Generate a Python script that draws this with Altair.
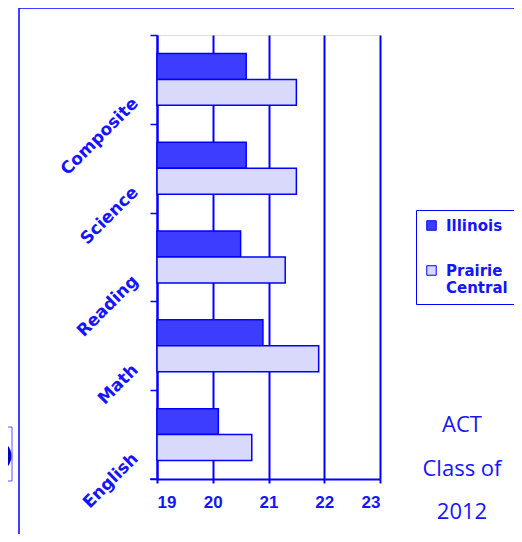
import altair as alt
import pandas as pd

categories = ["Composite", "Science", "Reading", "Math", "English"]
series = ["Illinois", "Prairie Central"]
illinois = [20.6, 20.6, 20.5, 20.9, 20.1]
prairie_central = [21.5, 21.5, 21.3, 21.9, 20.7]
x_ticks = [19, 20, 21, 22, 23]
note_lines = ["ACT", "Class of", "2012"]

BLUE = "#0000ff"
TEXT_BLUE = "#1414ff"
colors = ["#3d3dff", "#d9d9fb"]

rows = []
for c, a, b in zip(categories, illinois, prairie_central):
    rows.append({"category": c, "series": series[0], "value": a})
    rows.append({"category": c, "series": series[1], "value": b})
df = pd.DataFrame(rows)

W, H = 223, 444

bars = alt.Chart(df).mark_bar(stroke=BLUE, strokeWidth=1.5).encode(
    y=alt.Y("category:N", sort=categories, title=None,
            scale=alt.Scale(paddingInner=0, paddingOuter=0),
            axis=alt.Axis(labelAngle=-45, labelAlign="right", labelBaseline="middle",
                          labelFont="DejaVu Sans", labelFontWeight="bold", labelFontSize=17,
                          labelColor=TEXT_BLUE, labelOffset=21, labelPadding=15,
                          tickColor=BLUE, tickWidth=1.5, tickSize=7, tickBand="extent",
                          domainColor=BLUE, domainWidth=2)),
    yOffset=alt.YOffset("series:N", sort=series,
                        scale=alt.Scale(paddingInner=0, paddingOuter=0.71)),
    x=alt.X("value:Q", title=None,
            scale=alt.Scale(domain=[19, 23], nice=False, zero=False),
            axis=alt.Axis(values=x_ticks, grid=True, gridColor=BLUE, gridWidth=2,
                          domainColor=BLUE, domainWidth=2, tickColor=BLUE, tickWidth=2,
                          tickSize=4, labelFont="Liberation Sans", labelFontWeight="bold",
                          labelFontSize=17, labelColor=TEXT_BLUE, labelPadding=11)),
    x2=alt.datum(19),
    color=alt.Color("series:N", sort=series, title=None,
                    scale=alt.Scale(domain=series, range=colors),
                    legend=alt.Legend(orient="none", legendX=259, legendY=175,
                                      strokeColor=BLUE, padding=8, rowPadding=29,
                                      symbolType="square", symbolSize=90,
                                      symbolStrokeColor=BLUE, symbolStrokeWidth=1,
                                      symbolOpacity=1,
                                      labelFont="DejaVu Sans", labelFontWeight="bold",
                                      labelFontSize=15, labelColor=TEXT_BLUE,
                                      labelLimit=200, labelBaseline="middle", labelOffset=7,
                                      labelExpr="datum.label == 'Prairie Central' ? ['Prairie', 'Central'] : datum.label")),
)

one = pd.DataFrame({"k": [0]})
frame_left = alt.Chart(one).mark_rule(color=BLUE, strokeWidth=1.5).encode(
    x=alt.value(-138), y=alt.value(-27), y2=alt.value(520))
frame_top = alt.Chart(one).mark_rule(color=BLUE, strokeWidth=1.5).encode(
    x=alt.value(-138), x2=alt.value(380), y=alt.value(-27))
bottom_tick = alt.Chart(one).mark_rule(color=BLUE, strokeWidth=1.5).encode(
    x=alt.value(-7), x2=alt.value(0), y=alt.value(H))
box_side = alt.Chart(one).mark_rule(color="#5555ff", strokeWidth=1).encode(
    x=alt.value(-145), y=alt.value(392), y2=alt.value(446))
box_top = alt.Chart(one).mark_rule(color="#5555ff", strokeWidth=1).encode(
    x=alt.value(-150), x2=alt.value(-145), y=alt.value(392))
box_bottom = alt.Chart(one).mark_rule(color="#5555ff", strokeWidth=1).encode(
    x=alt.value(-150), x2=alt.value(-145), y=alt.value(446))
ring = alt.Chart(one).mark_point(filled=False, color="#0000cc", strokeWidth=6, opacity=1).encode(
    x=alt.value(-162), y=alt.value(421), size=alt.value(729))

notes = pd.DataFrame({"t": note_lines, "i": [0, 1, 2]})
note = alt.Chart(notes).mark_text(font="Open Sans", fontSize=22, color=TEXT_BLUE,
                                  align="center", baseline="middle").encode(
    text="t:N",
    x=alt.value(305),
    y=alt.Y("i:O", axis=None, scale=alt.Scale(domain=[0, 1, 2], range=[390, 477], padding=0)),
)

chart = alt.layer(bars, frame_left, frame_top, bottom_tick, box_side, box_top, box_bottom,
                  ring, note).resolve_scale(y="independent").properties(
    width=W, height=H,
    autosize=alt.AutoSizeParams(type="none"),
    padding={"left": 149, "top": 27, "right": 134, "bottom": 55},
).configure_view(stroke=BLUE, strokeWidth=2).configure(background="white")

chart.save("out.html", embed_options={"renderer": "svg", "actions": False})
